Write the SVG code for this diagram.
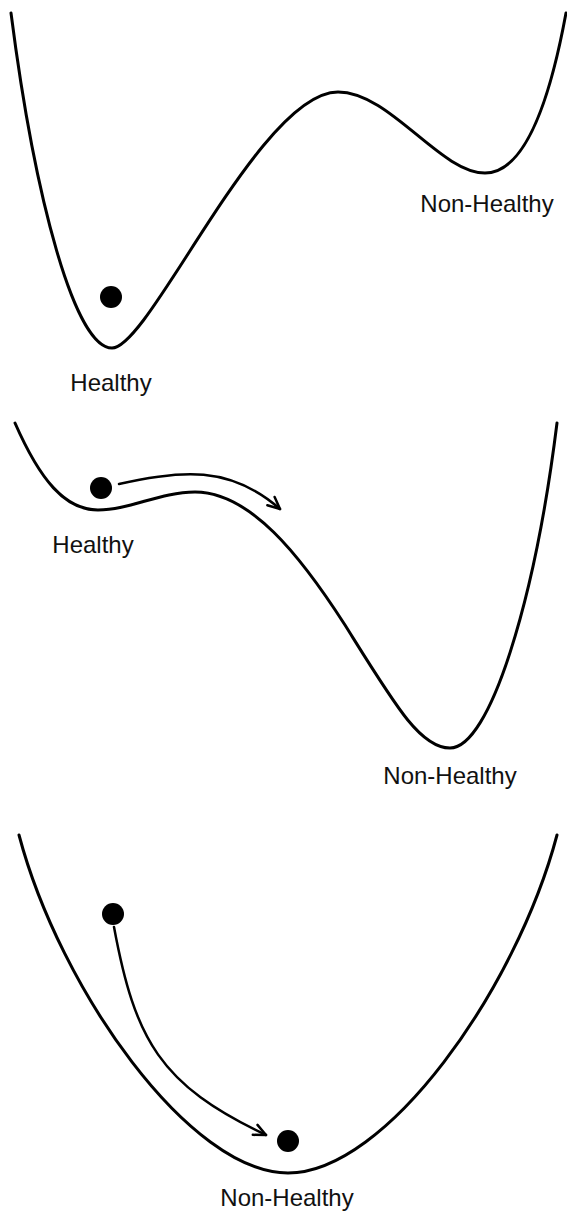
<svg xmlns="http://www.w3.org/2000/svg" width="567" height="1212" viewBox="0 0 567 1212">
<style>
.curve{fill:none;stroke:#000;stroke-width:3;stroke-linecap:round}
.arrow{fill:none;stroke:#000;stroke-width:2.5;stroke-linecap:round}
.ball{fill:#000}
.lbl{font-family:"Liberation Sans",Arial,sans-serif;font-size:24px;fill:#111;text-anchor:middle}
</style>
<defs>
<marker id="head" markerUnits="userSpaceOnUse" markerWidth="20" markerHeight="20" viewBox="-15 -10 20 20" refX="0" refY="0" orient="auto">
<path d="M -12 -5.5 L 0 0 L -12 5.5" fill="none" stroke="#000" stroke-width="2.5" stroke-linecap="round" stroke-linejoin="round"/>
</marker>
</defs>
<g id="panel1">
<path id="landscape1" class="curve" d="M 11 13 C 35 200, 75 348, 112 348 C 150 348, 260 92, 338 92 C 390 92, 440 173, 485 173 C 525 173, 550 100, 566 13"/>
<circle id="ball1" class="ball" cx="111" cy="297" r="11"/>
<text id="healthy1" class="lbl" x="111" y="391">Healthy</text>
<text id="nonhealthy1" class="lbl" x="487" y="212">Non-Healthy</text>
</g>
<g id="panel2">
<path id="landscape2" class="curve" d="M 15 423 C 40 480, 65 510, 98 510 C 130 510, 160 492, 195 492 C 250 492, 300 555, 345 625 C 395 705, 420 748, 450 748 C 490 748, 535 600, 557 423"/>
<circle id="ball2" class="ball" cx="101" cy="488" r="11"/>
<text id="healthy2" class="lbl" x="93" y="553">Healthy</text>
<text id="nonhealthy2" class="lbl" x="450" y="784">Non-Healthy</text>
</g>
<g id="panel3">
<path id="landscape3" class="curve" d="M 19 835 C 60 990, 190 1173, 288 1173 C 386 1173, 516 990, 557 835"/>
<circle id="ball3a" class="ball" cx="113" cy="914" r="11"/>
<circle id="ball3b" class="ball" cx="288" cy="1141" r="11"/>
<text id="nonhealthy3" class="lbl" x="287" y="1206">Non-Healthy</text>
</g>
<g id="connectors">
<path id="arrow2" class="arrow" d="M 119 484 C 180 470, 230 465, 280 509" marker-end="url(#head)"/>
<path id="arrow3" class="arrow" d="M 114 927 C 135 1040, 160 1085, 266 1135" marker-end="url(#head)"/>
</g>
</svg>
